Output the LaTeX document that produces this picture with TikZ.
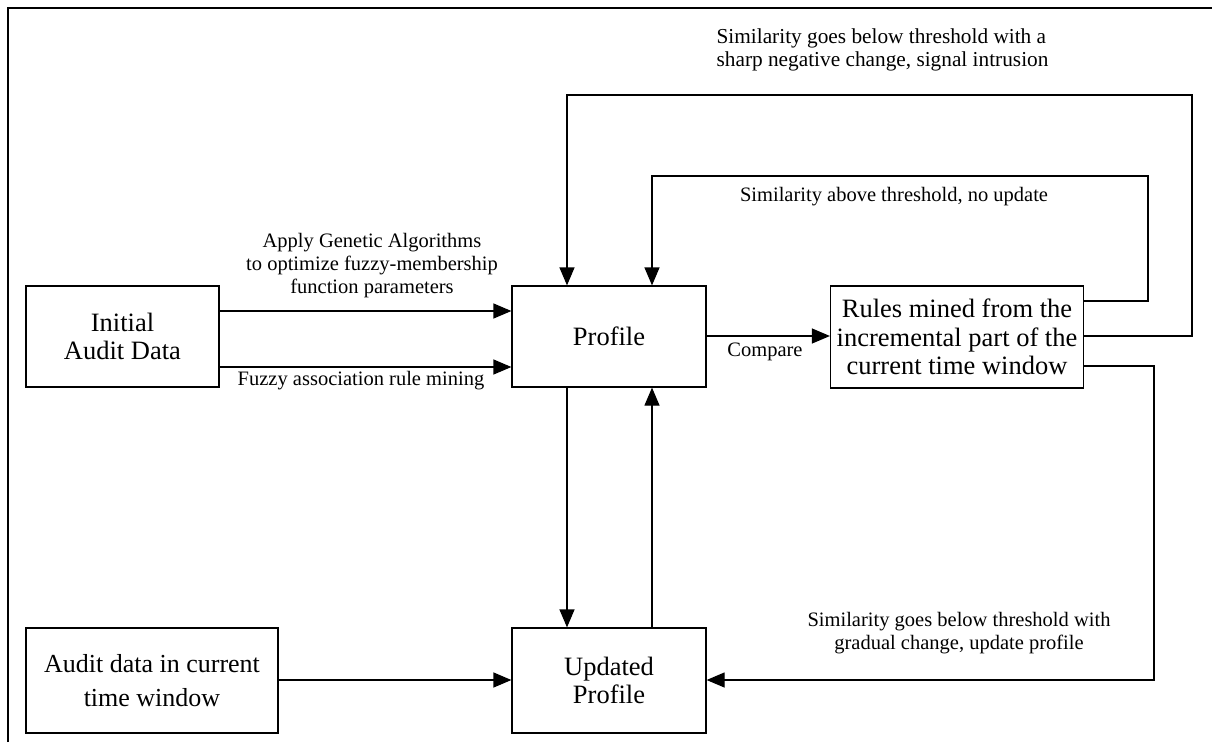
\documentclass[tikz,border=0pt]{standalone}
\usepackage{fontspec}
\setmainfont{Liberation Serif}
\usetikzlibrary{arrows.meta}
\begin{document}
\begin{tikzpicture}[x=1pt,y=-1pt,
  line width=1.2pt,
  box/.style={draw, rectangle, align=center, inner sep=0pt,
    font=\fontsize{26.5}{28.5}\selectfont},
  lbl/.style={align=center, inner sep=0pt,
    font=\fontsize{20.5}{23}\selectfont},
  arr/.style={-{Triangle[length=18pt,width=15pt]}}]
\useasboundingbox (0,0) rectangle (1212,742);
% outer frame
\draw (8,742) -- (8,8) -- (1212,8);

% blocks
\node[box, minimum width=193pt, minimum height=101pt] (init) at (122.5,336.5) {Initial\\Audit Data};
\node[box, minimum width=194pt, minimum height=101pt] (profile) at (609,336.5) {Profile};
\node[box, minimum width=253pt, minimum height=102pt] (rules) at (957,337) {Rules mined from the\\incremental part of the\\current time window};
\node[box, minimum width=252pt, minimum height=105pt,
  font=\fontsize{26}{34}\selectfont] (audit) at (152,680.5) {Audit data in current\\time window};
\node[box, minimum width=194pt, minimum height=105pt] (updated) at (609,680.5) {Updated\\Profile};

% initial profile construction
\draw[arr] (init.east |- 0,311) -- (profile.west |- 0,311);
\draw[arr] (init.east |- 0,367) -- (profile.west |- 0,367);
\node[lbl] (galbl) at (372,266) {Apply Genetic Algorithms\\to optimize fuzzy-membership\\function parameters};
\node[lbl] (fuzzylbl) at (361,381) {Fuzzy association rule mining};

% comparison with the newly mined rules
\draw[arr] (profile.east |- 0,336) -- (rules.west |- 0,336);
\node[lbl] (cmplbl) at (765,352) {Compare};

% feedback loops
\coordinate (oA) at (1192,336);
\coordinate (oB) at (1192,95);
\coordinate (oC) at (567,95);
\draw[arr] (rules.east |- 0,336) -- (oA) -- (oB) -- (oC) -- (profile.north -| oC);
\node[lbl, align=left, anchor=west, font=\fontsize{21.3}{23}\selectfont] (intrlbl) at (716,49.5) {Similarity goes below threshold with a\\sharp negative change, signal intrusion};

\coordinate (iA) at (1148,301);
\coordinate (iB) at (1148,176);
\coordinate (iC) at (652,176);
\draw[arr] (rules.east |- 0,301) -- (iA) -- (iB) -- (iC) -- (profile.north -| iC);
\node[lbl] (nolbl) at (894,197) {Similarity above threshold, no update};

\coordinate (uA) at (1154,366);
\coordinate (uB) at (1154,680);
\draw[arr] (rules.east |- 0,366) -- (uA) -- (uB) -- (updated.east |- uB);
\node[lbl] (updlbl) at (959,633.5) {Similarity goes below threshold with\\gradual change, update profile};

% profile update cycle
\draw[arr] (profile.south -| 567,0) -- (updated.north -| 567,0);
\draw[arr] (updated.north -| 652,0) -- (profile.south -| 652,0);
\draw[arr] (audit.east |- 0,680) -- (updated.west |- 0,680);
\end{tikzpicture}
\end{document}
